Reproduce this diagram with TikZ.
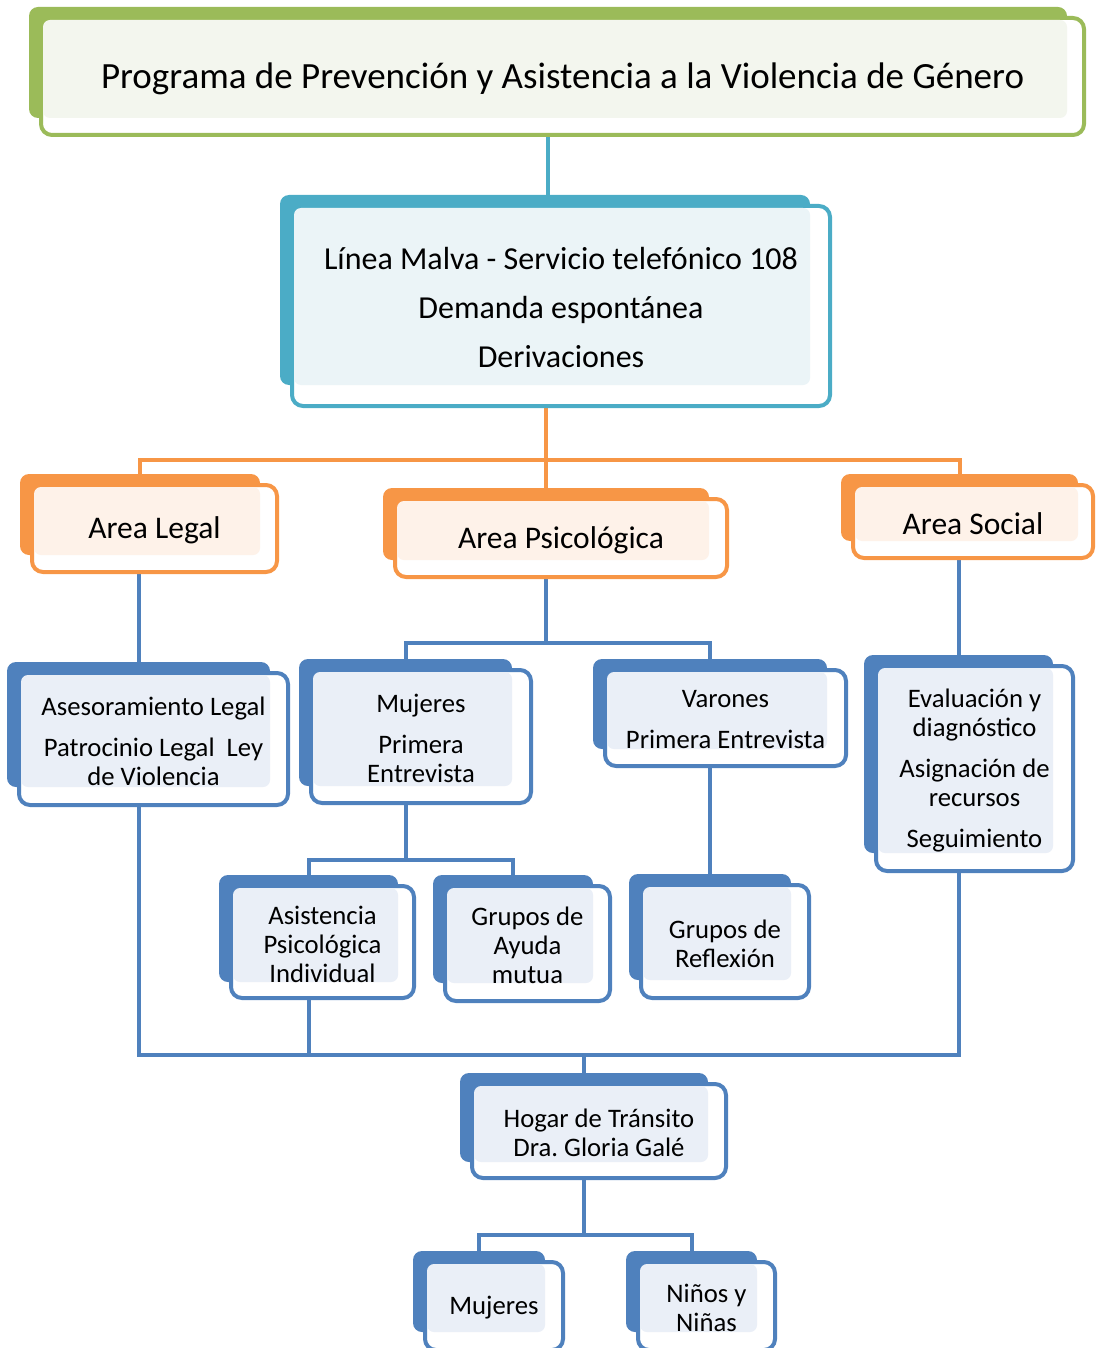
\documentclass[tikz,border=0pt]{standalone}
\usepackage{fontspec}
\setmainfont{Carlito}
\usetikzlibrary{backgrounds}
\frenchspacing
\definecolor{grnD}{HTML}{9BBB59}\definecolor{grnL}{HTML}{F3F6EE}
\definecolor{tealD}{HTML}{4BACC6}\definecolor{tealL}{HTML}{EBF4F7}
\definecolor{orgD}{HTML}{F79646}\definecolor{orgL}{HTML}{FEF2E9}
\definecolor{bluD}{HTML}{4F81BD}\definecolor{bluL}{HTML}{EAEFF7}
\tikzset{
 backbox/.style={rectangle, inner sep=0pt, rounded corners=9pt},
 outbox/.style={rectangle, inner sep=0pt, rounded corners=11pt, line width=4pt, fill=white},
 txt/.style={align=center, inner sep=0pt, text=black, yshift=-2pt},
 conn/.style={line width=4pt},
}
\newcommand\mybox[8]{%
 \pgfmathsetmacro\bw{#5-#3}\pgfmathsetmacro\bh{#6-#4}%
 \pgfmathsetmacro\bx{(#3+#5)/2}\pgfmathsetmacro\by{(#4+#6)/2}%
 \node[backbox, fill=#2D, minimum width=\bw pt, minimum height=\bh pt] (#1-b) at (\bx,\by) {};
 \pgfmathsetmacro\ow{#7-#3-14}\pgfmathsetmacro\oh{#8-#4-13}%
 \pgfmathsetmacro\ox{(#3+10+#7)/2}\pgfmathsetmacro\oy{(#4+9+#8)/2}%
 \node[outbox, draw=#2D, minimum width=\ow pt, minimum height=\oh pt] (#1) at (\ox,\oy) {};
 \fill[#2L, rounded corners=7pt] (#3+14,#4+13) rectangle (#5,#6);
 \def\curname{#1}\myboxtext}
\newcommand\myboxtext[2]{\node[txt, font=#1] (\curname-t) at (\curname.center) {#2};}
\newcommand\smallf{\fontsize{26.7}{29}\selectfont}
\newcommand\areaf{\fontsize{31.5}{34}\selectfont}
\begin{document}
\begin{tikzpicture}[x=1pt,y=-1pt]
\useasboundingbox (0,0) rectangle (1096,1348);
\mybox{title}{grn}{29}{7}{1067}{118}{1086}{137}{\fontsize{37}{44}\selectfont}{Programa de Prevención y Asistencia a la Violencia de Género}
\mybox{malva}{teal}{280}{195}{810}{385}{832}{408}{\fontsize{32}{34}\selectfont}{Línea Malva - Servicio telefónico 108\\[15pt]Demanda espontánea\\[15pt]Derivaciones}
\mybox{legal}{org}{20}{474}{260}{555}{279}{574}{\areaf}{Area Legal}
\mybox{psic}{org}{383}{488}{709}{560}{729}{579}{\areaf}{Area Psicológica}
\mybox{social}{org}{841}{474}{1078}{541}{1095}{560}{\areaf}{Area Social}
\mybox{asesor}{blu}{7}{662}{270}{787}{290}{807}{\smallf}{Asesoramiento Legal\\[12pt]Patrocinio Legal\ \ Ley\\de Violencia}
\mybox{muj}{blu}{299}{659}{512}{786}{533}{805}{\smallf}{Mujeres\\[12pt]Primera\\Entrevista}
\mybox{var}{blu}{593}{659}{827}{749}{848}{768}{\smallf}{Varones\\[12pt]Primera Entrevista}
\mybox{eval}{blu}{864}{655}{1053}{853}{1075}{873}{\smallf}{Evaluación y\\diagnóstico\\[12pt]Asignación de\\recursos\\[12pt]Seguimiento}
\mybox{asist}{blu}{219}{875}{398}{982}{416}{1000}{\smallf}{Asistencia\\Psicológica\\Individual}
\mybox{ayuda}{blu}{433}{875}{593}{983}{612}{1003}{\smallf}{Grupos de\\Ayuda\\mutua}
\mybox{reflex}{blu}{629}{874}{791}{980}{811}{1000}{\smallf}{Grupos de\\Reflexión}
\mybox{hogar}{blu}{460}{1073}{708}{1162}{728}{1180}{\smallf}{Hogar de Tránsito\\Dra. Gloria Galé}
\mybox{mujB}{blu}{413}{1251}{545}{1332}{565}{1352}{\smallf}{Mujeres}
\mybox{ninos}{blu}{626}{1251}{757}{1332}{777}{1352}{\smallf}{Niños y\\Niñas}
\begin{pgfonlayer}{background}
\coordinate (bus1) at (546,460);
\coordinate (bus2) at (546,643);
\coordinate (bus3) at (405.5,860);
\coordinate (bus4) at (584,1055);
\coordinate (bus5) at (584,1235);
\draw[conn, tealD] (title-b.south) -- (title-b.south |- malva-b.north);
\draw[conn, orgD] (psic-b.north) -- (psic-b.north |- malva-b.south);
\draw[conn, orgD] (legal-b.north) |- (bus1) -| (social-b.north);
\draw[conn, bluD] (asesor-b.north) -- (asesor-b.north |- legal-b.south);
\draw[conn, bluD] (eval-b.north) -- (eval-b.north |- social-b.south);
\draw[conn, bluD] (psic-b.south) -- (bus2);
\draw[conn, bluD] (muj-b.north) |- (bus2) -| (var-b.north);
\draw[conn, bluD] (muj-b.south) -- (bus3);
\draw[conn, bluD] (asist-b.north) |- (bus3) -| (ayuda-b.north);
\draw[conn, bluD] (var-b.south) -- (reflex-b.north);
\draw[conn, bluD] (asesor-b.south) |- (bus4) -| (eval-b.south);
\draw[conn, bluD] (asist-b.south) -- (asist-b.south |- bus4);
\draw[conn, bluD] (bus4) -- (hogar-b.north);
\draw[conn, bluD] (hogar-b.south) -- (bus5);
\draw[conn, bluD] (mujB-b.north) |- (bus5) -| (ninos-b.north);
\end{pgfonlayer}
\end{tikzpicture}
\end{document}
